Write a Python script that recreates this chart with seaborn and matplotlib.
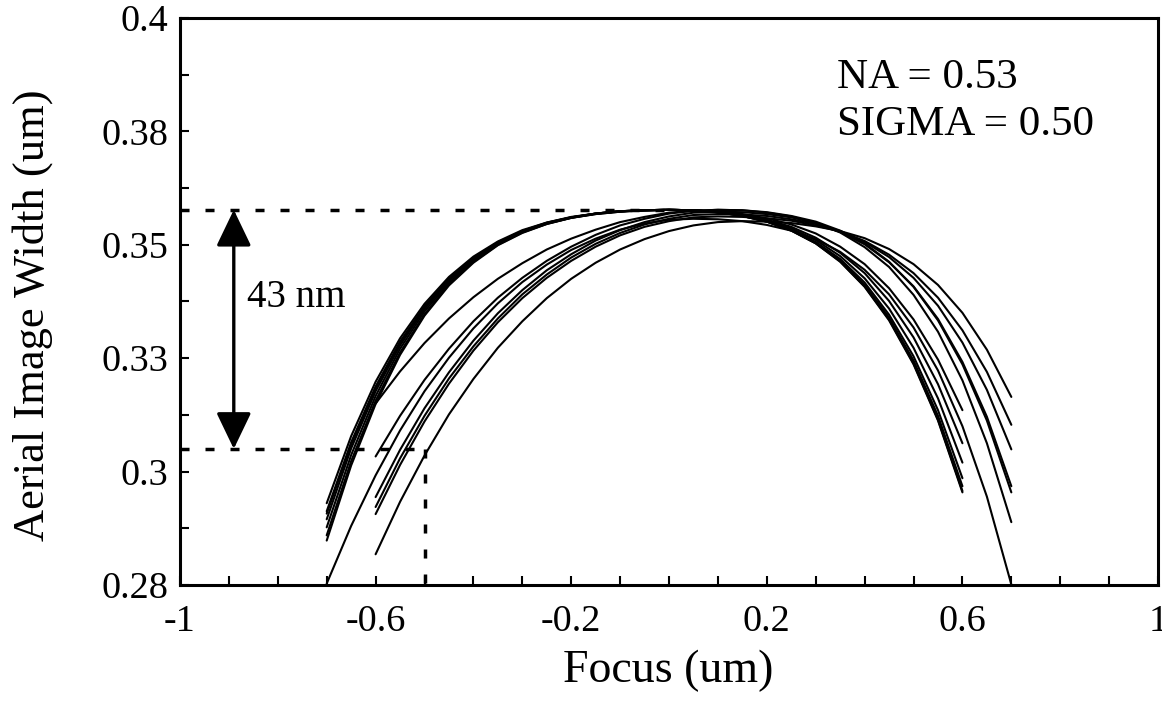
import matplotlib
matplotlib.use("Agg")
import matplotlib.pyplot as plt
import pandas as pd
import seaborn as sns

# Focus sampling grids (um)
focus_a = [-0.70, -0.65, -0.60, -0.55, -0.50, -0.45, -0.40, -0.35, -0.30, -0.25,
           -0.20, -0.15, -0.10, -0.05, 0.00, 0.05, 0.10, 0.15, 0.20, 0.25,
           0.30, 0.35, 0.40, 0.45, 0.50, 0.55, 0.60]
focus_b = [-0.60, -0.55, -0.50, -0.45, -0.40, -0.35, -0.30, -0.25, -0.20, -0.15,
           -0.10, -0.05, 0.00, 0.05, 0.10, 0.15, 0.20, 0.25, 0.30, 0.35,
           0.40, 0.45, 0.50, 0.55, 0.60, 0.65, 0.70]
focus_c = [-0.70, -0.65, -0.60, -0.55, -0.50, -0.45, -0.40, -0.35, -0.30, -0.25,
           -0.20, -0.15, -0.10, -0.05, 0.00, 0.05, 0.10, 0.15, 0.20, 0.25,
           0.30, 0.35, 0.40, 0.45, 0.50, 0.55, 0.60, 0.65, 0.70]

# Aerial image width (um) for each simulated condition
width_a1 = [0.2973, 0.3115, 0.3230, 0.3322, 0.3395, 0.3452, 0.3495, 0.3527, 0.3551, 0.3567,
            0.3579, 0.3586, 0.3591, 0.3593, 0.3594, 0.3593, 0.3589, 0.3581, 0.3569, 0.3550,
            0.3523, 0.3484, 0.3431, 0.3360, 0.3267, 0.3148, 0.2996]
width_a2 = [0.2951, 0.3097, 0.3217, 0.3312, 0.3388, 0.3447, 0.3491, 0.3525, 0.3549, 0.3566,
            0.3578, 0.3586, 0.3591, 0.3593, 0.3594, 0.3593, 0.3589, 0.3581, 0.3569, 0.3550,
            0.3523, 0.3485, 0.3432, 0.3362, 0.3269, 0.3150, 0.2999]
width_a3 = [0.2939, 0.3089, 0.3210, 0.3307, 0.3384, 0.3444, 0.3490, 0.3524, 0.3548, 0.3566,
            0.3578, 0.3586, 0.3591, 0.3593, 0.3594, 0.3593, 0.3589, 0.3581, 0.3569, 0.3551,
            0.3524, 0.3487, 0.3435, 0.3366, 0.3275, 0.3158, 0.3009]
width_a4 = [0.2922, 0.3075, 0.3200, 0.3300, 0.3379, 0.3440, 0.3487, 0.3522, 0.3547, 0.3565,
            0.3577, 0.3586, 0.3591, 0.3593, 0.3594, 0.3593, 0.3589, 0.3582, 0.3570, 0.3552,
            0.3526, 0.3490, 0.3440, 0.3372, 0.3284, 0.3170, 0.3026]
width_a5 = [0.2905, 0.3062, 0.3190, 0.3292, 0.3373, 0.3436, 0.3484, 0.3520, 0.3546, 0.3564,
            0.3577, 0.3585, 0.3590, 0.3593, 0.3594, 0.3593, 0.3589, 0.3583, 0.3571, 0.3555,
            0.3530, 0.3496, 0.3449, 0.3385, 0.3302, 0.3195, 0.3059]
width_a6 = [0.2894, 0.3053, 0.3183, 0.3287, 0.3370, 0.3434, 0.3482, 0.3519, 0.3545, 0.3564,
            0.3577, 0.3585, 0.3590, 0.3593, 0.3594, 0.3593, 0.3590, 0.3583, 0.3573, 0.3558,
            0.3535, 0.3503, 0.3460, 0.3401, 0.3324, 0.3225, 0.3100]
width_a7 = [0.2956, 0.3102, 0.3220, 0.3315, 0.3390, 0.3448, 0.3492, 0.3525, 0.3549, 0.3567,
            0.3578, 0.3586, 0.3591, 0.3593, 0.3594, 0.3593, 0.3590, 0.3585, 0.3576, 0.3563,
            0.3544, 0.3516, 0.3479, 0.3428, 0.3362, 0.3277, 0.3170]

width_b1 = [0.3184, 0.3252, 0.3312, 0.3364, 0.3409, 0.3448, 0.3481, 0.3510, 0.3533, 0.3552,
            0.3568, 0.3579, 0.3588, 0.3592, 0.3594, 0.3593, 0.3588, 0.3580, 0.3566, 0.3546,
            0.3515, 0.3473, 0.3414, 0.3336, 0.3233, 0.3100, 0.2933]
width_b2 = [0.3072, 0.3158, 0.3234, 0.3300, 0.3358, 0.3408, 0.3450, 0.3486, 0.3516, 0.3541,
            0.3561, 0.3575, 0.3586, 0.3592, 0.3594, 0.3593, 0.3589, 0.3581, 0.3569, 0.3550,
            0.3523, 0.3484, 0.3431, 0.3360, 0.3267, 0.3148, 0.2996]
width_b3 = [0.2986, 0.3086, 0.3174, 0.3250, 0.3317, 0.3375, 0.3424, 0.3466, 0.3500, 0.3529,
            0.3551, 0.3568, 0.3580, 0.3588, 0.3590, 0.3589, 0.3585, 0.3578, 0.3566, 0.3547,
            0.3521, 0.3483, 0.3432, 0.3363, 0.3272, 0.3156, 0.3009]
width_b4 = [0.2965, 0.3068, 0.3158, 0.3237, 0.3305, 0.3364, 0.3415, 0.3457, 0.3493, 0.3522,
            0.3545, 0.3563, 0.3575, 0.3583, 0.3585, 0.3584, 0.3581, 0.3574, 0.3564, 0.3549,
            0.3526, 0.3494, 0.3450, 0.3391, 0.3313, 0.3213, 0.3087]
width_b5 = [0.2950, 0.3054, 0.3146, 0.3226, 0.3296, 0.3356, 0.3407, 0.3450, 0.3486, 0.3516,
            0.3540, 0.3558, 0.3570, 0.3578, 0.3580, 0.3579, 0.3576, 0.3571, 0.3561, 0.3548,
            0.3528, 0.3499, 0.3460, 0.3408, 0.3339, 0.3251, 0.3139]
width_b6 = [0.2865, 0.2976, 0.3074, 0.3161, 0.3236, 0.3302, 0.3358, 0.3407, 0.3448, 0.3482,
            0.3510, 0.3532, 0.3549, 0.3561, 0.3568, 0.3570, 0.3569, 0.3566, 0.3559, 0.3549,
            0.3534, 0.3511, 0.3479, 0.3435, 0.3376, 0.3298, 0.3198]

width_c1 = [0.2803, 0.2925, 0.3032, 0.3127, 0.3210, 0.3281, 0.3343, 0.3396, 0.3441, 0.3478,
            0.3509, 0.3533, 0.3552, 0.3565, 0.3573, 0.3575, 0.3574, 0.3570, 0.3562, 0.3550,
            0.3532, 0.3505, 0.3467, 0.3415, 0.3345, 0.3254, 0.3136, 0.2987, 0.2801]

# Depth-of-focus markers
peak_width = 0.3594
spec_width = 0.3088
spec_focus = -0.5
arrow_focus = -0.89
dof_label = "43 nm"

# Axis ticks
x_major = [-1, -0.6, -0.2, 0.2, 0.6, 1]
x_major_labels = ["-1", "-0.6", "-0.2", "0.2", "0.6", "1"]
x_minor = [-0.9, -0.8, -0.7, -0.5, -0.4, -0.3, -0.1, 0.0, 0.1, 0.3, 0.4, 0.5, 0.7, 0.8, 0.9]
y_major = [0.28, 0.304, 0.328, 0.352, 0.376, 0.40]
y_major_labels = ["0.28", "0.3", "0.33", "0.35", "0.38", "0.4"]
y_minor = [0.292, 0.316, 0.340, 0.364, 0.388]

curves = [
    (focus_a, width_a1), (focus_a, width_a2), (focus_a, width_a3), (focus_a, width_a4),
    (focus_a, width_a5), (focus_a, width_a6), (focus_a, width_a7),
    (focus_b, width_b1), (focus_b, width_b2), (focus_b, width_b3), (focus_b, width_b4),
    (focus_b, width_b5), (focus_b, width_b6),
    (focus_c, width_c1),
]
rows = []
for i, (fx, wy) in enumerate(curves):
    for f, w in zip(fx, wy):
        rows.append({"curve": i, "focus": f, "width": w})
df = pd.DataFrame(rows)

sns.set_style("ticks")
plt.rcParams["font.family"] = ["Liberation Serif", "DejaVu Serif"]
plt.rcParams["axes.unicode_minus"] = False
for key in ["text.color", "axes.labelcolor", "xtick.color", "ytick.color",
            "axes.edgecolor"]:
    plt.rcParams[key] = "black"

fig = plt.figure(figsize=(11.62, 7.19), dpi=100)
ax = fig.add_axes([0.1549, 0.1864, 0.8417, 0.7886])

sns.lineplot(data=df, x="focus", y="width", units="curve", estimator=None,
             color="black", linewidth=1.5, legend=False, ax=ax)

dash = (2.6, 4.6)
ax.plot([-1.0, 0.02], [peak_width, peak_width], color="black", lw=2.5,
        dashes=dash, zorder=1)
ax.plot([-1.0, spec_focus], [spec_width, spec_width], color="black", lw=2.5,
        dashes=dash, zorder=1)
ax.plot([spec_focus, spec_focus], [spec_width, 0.28], color="black", lw=2.5,
        dashes=dash, zorder=1)

ax.annotate("", xy=(arrow_focus, peak_width), xytext=(arrow_focus, spec_width),
            arrowprops=dict(arrowstyle="<|-|>,head_length=0.75,head_width=0.36",
                            color="black", lw=2.4, mutation_scale=30,
                            shrinkA=0, shrinkB=0))
ax.text(-0.863, 0.3388, dof_label, fontsize=28, va="baseline", ha="left")

ax.text(0.343, 0.3852, "NA = 0.53", fontsize=31, va="baseline", ha="left")
ax.text(0.343, 0.3752, "SIGMA = 0.50", fontsize=31, va="baseline", ha="left")

ax.set_xlim(-1, 1)
ax.set_ylim(0.28, 0.40)
ax.set_xticks(x_major)
ax.set_xticklabels(x_major_labels)
ax.set_xticks(x_minor, minor=True)
ax.set_yticks(y_major)
ax.set_yticklabels(y_major_labels)
ax.set_yticks(y_minor, minor=True)

ax.tick_params(axis="both", which="both", direction="in", length=6.5, width=1.5,
               top=False, right=False, colors="black")
ax.tick_params(axis="x", which="major", labelsize=27.5, pad=14)
ax.tick_params(axis="y", which="major", labelsize=27.5, pad=8.5)

for side in ["left", "bottom", "right", "top"]:
    ax.spines[side].set_visible(True)
    ax.spines[side].set_linewidth(2.2)
    ax.spines[side].set_color("black")

ax.set_xlabel("Focus (um)", fontsize=33)
ax.set_ylabel("Aerial Image Width (um)", fontsize=32)
ax.xaxis.set_label_coords(0.499, -0.114)
ax.yaxis.set_label_coords(-0.130, 0.476)

fig.savefig("out.png", dpi=100)
